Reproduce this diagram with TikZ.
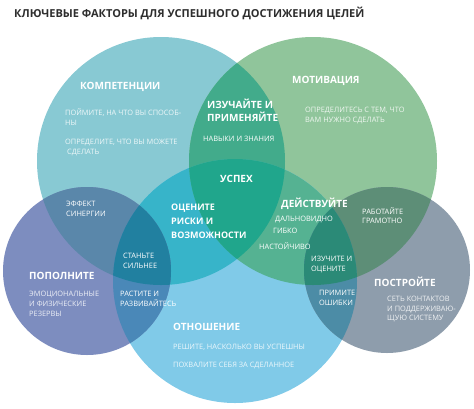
\documentclass[tikz,border=0pt]{standalone}
\usepackage{fontspec}
\setmainfont{Open Sans}
\definecolor{cA}{HTML}{88C9D3}
\definecolor{cB}{HTML}{90C59B}
\definecolor{cC}{HTML}{80CAE8}
\definecolor{cD}{HTML}{7D8DBF}
\definecolor{cE}{HTML}{8E9DAC}
\definecolor{cAB}{HTML}{42AB8B}
\definecolor{cAC}{HTML}{37B4C9}
\definecolor{cAD}{HTML}{5A87AA}
\definecolor{cBC}{HTML}{55B292}
\definecolor{cBE}{HTML}{5D8E77}
\definecolor{cCD}{HTML}{4A88B8}
\definecolor{cCE}{HTML}{4C8CA6}
\definecolor{cABC}{HTML}{20A68C}
\definecolor{cACD}{HTML}{2180A0}
\definecolor{cBCE}{HTML}{2B8A77}
\definecolor{titlegray}{HTML}{2E2E2E}
\tikzset{
  ttl/.style={font=\bfseries\fontsize{11}{13}\selectfont, text=titlegray, anchor=base west, inner sep=0pt},
  head/.style={font=\bfseries\fontsize{10}{13}\selectfont, text=white, anchor=base west, inner sep=0pt},
  headsm/.style={font=\bfseries\fontsize{9}{12}\selectfont, text=white, anchor=base west, inner sep=0pt},
  sub/.style={font=\fontsize{7.4}{10}\selectfont, text=white, anchor=base west, inner sep=0pt},
  body/.style={font=\fontsize{7.4}{10}\selectfont, text=white, text opacity=0.85, anchor=base west, inner sep=0pt},
}
\begin{document}
\begin{tikzpicture}[x=1pt,y=-1pt]
\useasboundingbox (0,0) rectangle (474,408);
\fill[white] (0,0) rectangle (474,408);
% circle centres
\coordinate (A) at (161,161);
\coordinate (B) at (313,161);
\coordinate (C) at (235,281);
\coordinate (D) at (87,271);
\coordinate (E) at (387,270);
\def\cirA{(A) circle[radius=124pt]}
\def\cirB{(B) circle[radius=124pt]}
\def\cirC{(C) circle[radius=122pt]}
\def\cirD{(D) circle[radius=84pt]}
\def\cirE{(E) circle[radius=83pt]}
% single circles
\fill[cA] \cirA;
\fill[cB] \cirB;
\fill[cC] \cirC;
\fill[cD] \cirD;
\fill[cE] \cirE;
% pairwise intersections
\begin{scope}\clip \cirA; \fill[cAB] \cirB; \end{scope}
\begin{scope}\clip \cirA; \fill[cAC] \cirC; \end{scope}
\begin{scope}\clip \cirA; \fill[cAD] \cirD; \end{scope}
\begin{scope}\clip \cirB; \fill[cBC] \cirC; \end{scope}
\begin{scope}\clip \cirB; \fill[cBE] \cirE; \end{scope}
\begin{scope}\clip \cirC; \fill[cCD] \cirD; \end{scope}
\begin{scope}\clip \cirC; \fill[cCE] \cirE; \end{scope}
% triple intersections
\begin{scope}\clip \cirA; \clip \cirB; \fill[cABC] \cirC; \end{scope}
\begin{scope}\clip \cirA; \clip \cirC; \fill[cACD] \cirD; \end{scope}
\begin{scope}\clip \cirB; \clip \cirC; \fill[cBCE] \cirE; \end{scope}
% title
\node[ttl] (title) at (14,17.6) {КЛЮЧЕВЫЕ ФАКТОРЫ ДЛЯ УСПЕШНОГО ДОСТИЖЕНИЯ ЦЕЛЕЙ};
% headings
\node[head] (komp) at (80,89.6) {КОМПЕТЕНЦИИ};
\node[head] (izu1) at (207,108.6) {ИЗУЧАЙТЕ И};
\node[head] (izu2) at (207,121.6) {ПРИМЕНЯЙТЕ};
\node[head] (motiv) at (292,83.6) {МОТИВАЦИЯ};
\node[head] (uspeh) at (220,182.6) {УСПЕХ};
\node[headsm] (oc1) at (171,210.3) {ОЦЕНИТЕ};
\node[headsm] (oc2) at (171,224.3) {РИСКИ И};
\node[headsm] (oc3) at (171,238.3) {ВОЗМОЖНОСТИ};
\node[head] (deist) at (281,207.6) {ДЕЙСТВУЙТЕ};
\node[head] (popoln) at (29,279.6) {ПОПОЛНИТЕ};
\node[head] (postr) at (374,286.6) {ПОСТРОЙТЕ};
\node[head] (otnosh) at (173,330.6) {ОТНОШЕНИЕ};
% body texts
\node[body] (k1) at (65,115.6) {ПОЙМИТЕ, НА ЧТО ВЫ СПОСОБ-};
\node[body] (k2) at (65,125.6) {НЫ};
\node[body] (k3) at (65,144.6) {ОПРЕДЕЛИТЕ, ЧТО ВЫ МОЖЕТЕ};
\node[body] (k4) at (67,154.6) {СДЕЛАТЬ};
\node[sub] (nav) at (203,141.6) {НАВЫКИ И ЗНАНИЯ};
\node[body] (m1) at (305,112.6) {ОПРЕДЕЛИТЕСЬ С ТЕМ, ЧТО};
\node[body] (m2) at (305,122.6) {ВАМ НУЖНО СДЕЛАТЬ};
\node[sub] (d1) at (275,221.6) {ДАЛЬНОВИДНО};
\node[sub] (d2) at (273,233.6) {ГИБКО};
\node[sub] (d3) at (259,249.6) {НАСТОЙЧИВО};
\node[sub] (io1) at (311,261.6) {ИЗУЧИТЕ И};
\node[sub] (io2) at (311,271.6) {ОЦЕНИТЕ};
\node[sub] (rg1) at (362,214.6) {РАБОТАЙТЕ};
\node[sub] (rg2) at (362,223.6) {ГРАМОТНО};
\node[sub] (po1) at (319,295.6) {ПРИМИТЕ};
\node[sub] (po2) at (319,305.6) {ОШИБКИ};
\node[body] (s1) at (387,301.6) {СЕТЬ КОНТАКТОВ};
\node[body] (s2) at (387,311.6) {И ПОДДЕРЖИВАЮ-};
\node[body] (s3) at (387,320.6) {ЩУЮ СИСТЕМУ};
\node[sub] (ef1) at (66,206.6) {ЭФФЕКТ};
\node[sub] (ef2) at (66,216.6) {СИНЕРГИИ};
\node[sub] (st1) at (123,258.6) {СТАНЬТЕ};
\node[sub] (st2) at (123,268.6) {СИЛЬНЕЕ};
\node[body] (e1) at (29,296.6) {ЭМОЦИОНАЛЬНЫЕ};
\node[body] (e2) at (29,306.6) {И ФИЗИЧЕСКИЕ};
\node[body] (e3) at (29,316.6) {РЕЗЕРВЫ};
\node[sub] (r1) at (120,296.6) {РАСТИТЕ И};
\node[sub] (r2) at (120,306.6) {РАЗВИВАЙТЕСЬ};
\node[body] (o1) at (173,349.6) {РЕШИТЕ, НАСКОЛЬКО ВЫ УСПЕШНЫ};
\node[body] (o2) at (173,367.6) {ПОХВАЛИТЕ СЕБЯ ЗА СДЕЛАННОЕ};
\end{tikzpicture}
\end{document}
